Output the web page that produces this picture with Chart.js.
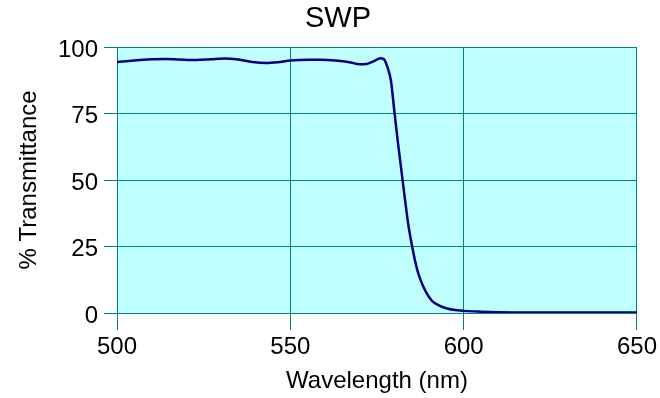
<!DOCTYPE html>
<html>
<head>
<meta charset="utf-8">
<script src="https://cdn.jsdelivr.net/npm/chart.js@4"></script>
<style>
  body { margin: 0; background: #ffffff; }
</style>
</head>
<body>
<canvas id="graph" width="660" height="398"></canvas>
<script>
// wavelength (nm) and % transmittance
var wavelengths = [500, 505, 510, 514, 518, 523, 527, 531, 535, 539, 543, 547, 550, 555, 559, 563, 567, 570, 572, 574, 576, 577, 578, 579, 580, 581, 582, 583, 584, 585, 586, 587, 588, 589, 590, 591, 593, 595, 597, 600, 605, 610, 620, 635, 650];
var transmittance = [94.4, 94.9, 95.4, 95.5, 95.3, 95.1, 95.4, 95.7, 95.3, 94.4, 94.0, 94.4, 94.9, 95.2, 95.2, 94.9, 94.3, 93.5, 93.6, 94.6, 95.8, 95.4, 92.5, 87.5, 76, 64.5, 54, 43.5, 33.5, 26, 19.5, 14.5, 11, 8.2, 6, 4.4, 2.8, 1.8, 1.2, 0.8, 0.5, 0.3, 0.2, 0.2, 0.2];
var xTicks = [500, 550, 600, 650];
var yTicks = [0, 25, 50, 75, 100];

var points = wavelengths.map(function (w, i) { return { x: w, y: transmittance[i] }; });

var fontFamily = "'Liberation Sans', Arial, sans-serif";
var teal = '#008080';

var plotBackground = {
    id: 'plotBackground',
    beforeDraw: function (chart) {
        var a = chart.chartArea;
        var ctx = chart.ctx;
        ctx.save();
        ctx.fillStyle = '#c0ffff';
        ctx.fillRect(a.left, a.top, a.right - a.left, a.bottom - a.top);
        ctx.restore();
    }
};

var graph_context = document.getElementById('graph').getContext('2d');
var graph = new Chart(graph_context, {
    type: 'scatter',
    data: {
        datasets: [{
            label: 'SWP',
            data: points,
            showLine: true,
            borderColor: '#000080',
            backgroundColor: '#000080',
            borderWidth: 2.5,
            pointRadius: 0,
            cubicInterpolationMode: 'monotone'
        }]
    },
    options: {
        responsive: false,
        animation: false,
        // left/right padding also puts the title centre where the original has it
        layout: { padding: { left: 39, right: 23, top: 0, bottom: 0 } },
        scales: {
            x: {
                type: 'linear',
                min: 500,
                max: 650,
                afterFit: function (s) { s.height = 85; },
                afterBuildTicks: function (s) { s.ticks = xTicks.map(function (v) { return { value: v }; }); },
                ticks: {
                    color: '#000000',
                    padding: 3,
                    maxRotation: 0,
                    font: { family: fontFamily, size: 24 }
                },
                grid: { color: teal, lineWidth: 1, tickLength: 17 },
                border: { color: teal, width: 1 },
                title: {
                    display: true,
                    text: 'Wavelength (nm)',
                    color: '#000000',
                    padding: { top: 0, bottom: 2 },
                    font: { family: fontFamily, size: 24 }
                }
            },
            y: {
                min: 0,
                max: 100,
                afterFit: function (s) { s.width = 78; },
                afterBuildTicks: function (s) { s.ticks = yTicks.map(function (v) { return { value: v }; }); },
                ticks: {
                    color: '#000000',
                    padding: 6,
                    labelOffset: 3,
                    font: { family: fontFamily, size: 24 }
                },
                grid: { color: teal, lineWidth: 1, tickLength: 13 },
                border: { color: teal, width: 1 },
                title: {
                    display: true,
                    text: '% Transmittance',
                    color: '#000000',
                    padding: { top: -22, bottom: 0 },
                    font: { family: fontFamily, size: 24, lineHeight: 1 }
                }
            }
        },
        plugins: {
            legend: { display: false },
            tooltip: { enabled: false },
            title: {
                display: true,
                text: 'SWP',
                color: '#000000',
                padding: { top: 2, bottom: 10.2 },
                font: { family: fontFamily, size: 29, weight: 'normal' }
            }
        }
    },
    plugins: [plotBackground]
});
</script>
</body>
</html>
